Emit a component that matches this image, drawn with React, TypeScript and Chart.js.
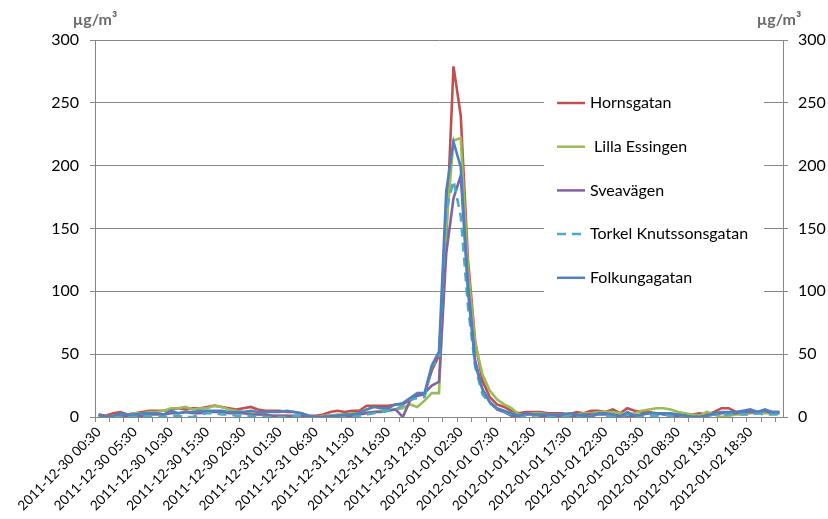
import React, { useEffect, useRef } from 'react';
import { Chart, registerables } from 'chart.js';

Chart.register(...registerables);

const categories = [
  '2011-12-30 00:30','2011-12-30 01:30','2011-12-30 02:30','2011-12-30 03:30','2011-12-30 04:30','2011-12-30 05:30',
  '2011-12-30 06:30','2011-12-30 07:30','2011-12-30 08:30','2011-12-30 09:30','2011-12-30 10:30','2011-12-30 11:30',
  '2011-12-30 12:30','2011-12-30 13:30','2011-12-30 14:30','2011-12-30 15:30','2011-12-30 16:30','2011-12-30 17:30',
  '2011-12-30 18:30','2011-12-30 19:30','2011-12-30 20:30','2011-12-30 21:30','2011-12-30 22:30','2011-12-30 23:30',
  '2011-12-31 00:30','2011-12-31 01:30','2011-12-31 02:30','2011-12-31 03:30','2011-12-31 04:30','2011-12-31 05:30',
  '2011-12-31 06:30','2011-12-31 07:30','2011-12-31 08:30','2011-12-31 09:30','2011-12-31 10:30','2011-12-31 11:30',
  '2011-12-31 12:30','2011-12-31 13:30','2011-12-31 14:30','2011-12-31 15:30','2011-12-31 16:30','2011-12-31 17:30',
  '2011-12-31 18:30','2011-12-31 19:30','2011-12-31 20:30','2011-12-31 21:30','2011-12-31 22:30','2011-12-31 23:30',
  '2012-01-01 00:30','2012-01-01 01:30','2012-01-01 02:30','2012-01-01 03:30','2012-01-01 04:30','2012-01-01 05:30',
  '2012-01-01 06:30','2012-01-01 07:30','2012-01-01 08:30','2012-01-01 09:30','2012-01-01 10:30','2012-01-01 11:30',
  '2012-01-01 12:30','2012-01-01 13:30','2012-01-01 14:30','2012-01-01 15:30','2012-01-01 16:30','2012-01-01 17:30',
  '2012-01-01 18:30','2012-01-01 19:30','2012-01-01 20:30','2012-01-01 21:30','2012-01-01 22:30','2012-01-01 23:30',
  '2012-01-02 00:30','2012-01-02 01:30','2012-01-02 02:30','2012-01-02 03:30','2012-01-02 04:30','2012-01-02 05:30',
  '2012-01-02 06:30','2012-01-02 07:30','2012-01-02 08:30','2012-01-02 09:30','2012-01-02 10:30','2012-01-02 11:30',
  '2012-01-02 12:30','2012-01-02 13:30','2012-01-02 14:30','2012-01-02 15:30','2012-01-02 16:30','2012-01-02 17:30',
  '2012-01-02 18:30','2012-01-02 19:30','2012-01-02 20:30','2012-01-02 21:30','2012-01-02 22:30',
];

const tickLabels = [
  '2011-12-30 00:30','2011-12-30 05:30','2011-12-30 10:30','2011-12-30 15:30','2011-12-30 20:30',
  '2011-12-31 01:30','2011-12-31 06:30','2011-12-31 11:30','2011-12-31 16:30','2011-12-31 21:30',
  '2012-01-01 02:30','2012-01-01 07:30','2012-01-01 12:30','2012-01-01 17:30','2012-01-01 22:30',
  '2012-01-02 03:30','2012-01-02 08:30','2012-01-02 13:30','2012-01-02 18:30',
];

const yTicks = [0, 50, 100, 150, 200, 250, 300];

const hornsgatan = [
  2, 1, 3, 4, 2, 3, 4, 5, 5, 5, 6, 7, 6, 7, 7, 8, 9, 8, 7, 6, 7, 8, 6, 5, 5, 5, 4, 4, 3, 1, 1, 2, 4, 5, 4, 5, 5, 9, 9, 9, 9, 10,
  10, 14, 17, 18, 37, 49, 142, 279, 240, 125, 60, 29, 16, 10, 8, 5, 3, 4, 4, 4, 3, 3, 3, 2, 4, 3, 5, 5, 4, 6, 3, 7, 5, 4, 4, 3,
  3, 2, 2, 2, 2, 3, 2, 4, 7, 7, 4, 4, 5, 4, 5, 4, 4,
];

const lillaEssingen = [
  1, 0, 1, 2, 2, 3, 3, 4, 4, 5, 7, 7, 8, 6, 7, 7, 9, 8, 6, 5, 4, 3, 2, 2, 1, 1, 1, 0, 0, 0, 0, 1, 1, 2, 2, 3, 3, 4, 4, 5, 6, 6,
  7, 10, 8, 13, 19, 19, 150, 220, 222, 118, 58, 34, 21, 14, 10, 7, 2, 2, 3, 3, 2, 2, 2, 2, 2, 3, 3, 4, 4, 4, 3, 2, 3, 5, 6, 7,
  7, 6, 4, 3, 2, 1, 4, 2, 0, 1, 2, 2, 3, 3, 3, 3, 3,
];

const sveavagen = [
  1, 0, 0, 1, 1, 1, 1, 2, 2, 2, 3, 3, 4, 3, 3, 4, 4, 4, 3, 3, 3, 2, 2, 2, 1, 1, 1, 1, 1, 0, 0, 0, 0, 1, 1, 1, 2, 3, 4, 4, 5, 6,
  0, 13, 17, 19, 25, 28, 130, 174, 192, 105, 45, 22, 12, 6, 4, 1, 0, 2, 2, 1, 1, 1, 1, 0, 1, 2, 2, 2, 2, 2, 1, 1, 1, 2, 3, 3,
  2, 1, 1, 1, 0, 0, 1, 2, 3, 3, 3, 4, 4, 4, 5, 3, 3,
];

const torkelKnutssonsgatan = [
  1, 0, 0, 0, 0, 1, 1, 1, 0, 0, 1, 1, 0, 0, 2, 3, 3, 2, 2, 1, 1, 1, 0, 0, 0, 0, 0, 1, 1, 0, 0, 0, 0, 0, 0, 1, 1, 2, 3, 4, 5, 6,
  9, 14, 15, 16, 40, 47, 165, 188, 160, 88, 40, 18, 11, 7, 4, 2, 1, 1, 1, 2, 1, 0, 1, 1, 0, 1, 1, 2, 1, 1, 0, 2, 0, 1, 1, 1,
  2, 1, 0, 0, 1, 0, 1, 2, 2, 2, 3, 2, 2, 3, 2, 2, 2,
];

const folkungagatan = [
  2, 0, 1, 3, 2, 2, 3, 3, 3, 2, 5, 3, 4, 4, 5, 5, 5, 5, 4, 4, 4, 5, 4, 4, 4, 4, 5, 4, 3, 1, 0, 0, 1, 1, 2, 2, 3, 6, 8, 7, 7, 10,
  11, 15, 19, 19, 41, 52, 180, 219, 199, 100, 42, 22, 12, 7, 5, 3, 1, 3, 2, 2, 2, 2, 2, 3, 2, 1, 0, 3, 3, 2, 0, 4, 1, 2, 3, 3,
  3, 3, 2, 1, 0, 0, 1, 3, 4, 4, 4, 5, 6, 4, 6, 4, 4,
];

const seriesNames = ['Hornsgatan', ' Lilla Essingen', 'Sveavägen', 'Torkel Knutssonsgatan', 'Folkungagatan'];
const seriesValues = [hornsgatan, lillaEssingen, sveavagen, torkelKnutssonsgatan, folkungagatan];
const seriesColors = ['#C0504D', '#9BBB59', '#8064A2', '#4BACC6', '#4F81BD'];
const unitLabel = 'µg/m³';

const GRID = '#878787';
const FONT = 'Lato';

const overlayPlugin = {
  id: 'overlay',
  afterDatasetsDraw(chart: any) {
    const ctx = chart.ctx;
    ctx.save();
    ctx.fillStyle = '#ffffff';
    ctx.fillRect(544, 82, 220, 214);
    chart.data.datasets.forEach((ds: any, i: number) => {
      const y = 103 + i * 43.7;
      ctx.strokeStyle = ds.borderColor;
      ctx.lineWidth = 2.5;
      ctx.setLineDash(ds.borderDash || []);
      ctx.beginPath();
      ctx.moveTo(557, y);
      ctx.lineTo(585, y);
      ctx.stroke();
      ctx.setLineDash([]);
      ctx.fillStyle = '#000000';
      ctx.font = `16px ${FONT}`;
      ctx.textAlign = 'left';
      ctx.textBaseline = 'middle';
      ctx.fillText(ds.label, 590, y);
    });
    ctx.fillStyle = '#6a6a6a';
    ctx.font = `bold 16px ${FONT}`;
    ctx.textAlign = 'center';
    ctx.textBaseline = 'alphabetic';
    ctx.fillText(unitLabel, 95, 25);
    ctx.fillText(unitLabel, 779, 25);
    ctx.restore();
  },
};

export default function App() {
  const canvasRef = useRef<HTMLCanvasElement | null>(null);

  useEffect(() => {
    if (!canvasRef.current) return;
    const chart = new Chart(canvasRef.current, {
      type: 'line',
      data: {
        labels: categories,
        datasets: seriesValues.map((vals, i) => ({
          label: seriesNames[i],
          data: vals,
          borderColor: seriesColors[i],
          backgroundColor: seriesColors[i],
          borderWidth: 2.6,
          pointRadius: 0,
          pointHoverRadius: 0,
          tension: 0,
          fill: false,
          borderDash: i === 3 ? [9, 6] : [],
          order: 5 - i,
        })),
      },
      options: {
        responsive: false,
        animation: false,
        devicePixelRatio: 1,
        layout: { padding: { top: 40, left: 0, right: 0, bottom: 0 } },
        plugins: {
          legend: { display: false },
          tooltip: { enabled: false },
          title: { display: false },
        },
        scales: {
          x: {
            type: 'category',
            offset: true,
            afterFit: (s: any) => { s.height = 102; },
            grid: {
              offset: true,
              drawOnChartArea: false,
              drawTicks: true,
              tickLength: 5,
              color: (c: any) => (c.index !== undefined && c.index % 2 === 0 ? GRID : 'rgba(0,0,0,0)'),
            },
            border: { display: true, color: GRID, width: 1 },
            ticks: {
              autoSkip: false,
              maxRotation: 45,
              minRotation: 45,
              padding: 2,
              color: '#000000',
              font: { family: FONT, size: 13.5 },
              callback: (_v: any, idx: number) => (tickLabels.includes(categories[idx]) ? categories[idx] : ''),
            },
          },
          y: {
            position: 'left',
            min: 0,
            max: 300,
            afterFit: (s: any) => { s.width = 95; },
            afterBuildTicks: (s: any) => { s.ticks = yTicks.map((v) => ({ value: v })); },
            grid: { color: GRID, tickLength: 5, drawTicks: true },
            border: { display: true, color: GRID, width: 1 },
            ticks: { padding: 11, color: '#000000', font: { family: FONT, size: 16 } },
          },
          y2: {
            position: 'right',
            min: 0,
            max: 300,
            afterFit: (s: any) => { s.width = 45; },
            afterBuildTicks: (s: any) => { s.ticks = yTicks.map((v) => ({ value: v })); },
            grid: { color: GRID, tickLength: 5, drawTicks: true, drawOnChartArea: false },
            border: { display: true, color: GRID, width: 1 },
            ticks: { padding: 10, color: '#000000', font: { family: FONT, size: 16 } },
          },
        },
      },
      plugins: [overlayPlugin],
    } as any);
    return () => chart.destroy();
  }, []);

  return (
    <div style={{ position: 'absolute', left: 0, top: 0, width: 828, height: 519, background: '#fff' }}>
      <canvas ref={canvasRef} width={828} height={519} style={{ width: 828, height: 519, display: 'block' }} />
    </div>
  );
}
